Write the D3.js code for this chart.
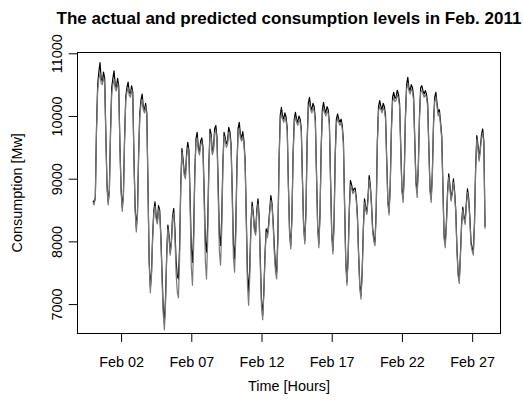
<!DOCTYPE html>
<html><head><meta charset="utf-8">
<script src="https://cdn.jsdelivr.net/npm/d3@7"></script>
<style>body{margin:0;background:#fff} svg{display:block} text{font-family:"Liberation Sans",Arial,Helvetica,sans-serif;fill:#000}</style>
</head><body><svg id="c" width="524" height="405"></svg>
<script>
// Hourly consumption sampled every 2 hours, Feb 1 00:00 onward (28 days)
const stepHours = 2;
const actual = [
8650,8620,8700,9800,10500,10700,10850,10600,10550,10700,10600,9700,
8900,8625,8830,9780,10450,10600,10720,10500,10450,10600,10480,9550,
8850,8545,8750,9650,10300,10450,10540,10380,10350,10480,10380,9350,
8550,8227,8450,9400,10050,10250,10350,10150,10100,10200,10050,8900,
7700,7275,7500,8100,8500,8630,8400,8310,8570,8500,8100,7500,
6950,6700,7100,7800,8260,8100,7825,8000,8400,8525,8200,7700,
7450,7400,7900,8900,9480,9300,9100,9050,9400,9580,9450,8700,
7900,7665,8100,9100,9634,9740,9500,9420,9600,9650,9500,8800,
8000,7830,8250,9200,9793,9700,9420,9500,9800,9847,9650,8900,
8100,7935,8350,9250,9740,9650,9560,9600,9820,9750,9550,8800,
7950,7720,8200,9200,9800,9900,9700,9650,9750,9600,9300,8400,
7500,7190,7600,8300,8625,8450,8200,8147,8500,8678,8400,7700,
7050,6820,7200,7800,8200,8100,8250,8500,8731,8600,8300,7900,
7600,7510,8100,9300,10006,10139,10000,9950,10050,9980,9800,8900,
8150,7935,8400,9400,9950,10059,9950,9900,10000,9950,9800,9000,
8250,8015,8500,9600,10200,10298,10150,10100,10200,10150,9950,9100,
8250,7961,8450,9500,10100,10218,10100,10050,10150,10100,9900,9000,
8150,7855,8300,9400,9950,10032,9950,9900,9950,9850,9600,8600,
7700,7350,7750,8500,8971,8900,8800,8840,8850,8700,8400,7800,
7300,7139,7500,8200,8678,8550,8466,8700,9050,8900,8600,8200,
8050,7988,8500,9600,10150,10245,10150,10100,10200,10150,10000,9300,
8650,8466,8900,9800,10300,10378,10280,10300,10410,10350,10200,9500,
8850,8678,9100,10000,10500,10617,10450,10400,10500,10450,10300,9600,
8950,8785,9200,10000,10450,10484,10400,10350,10404,10350,10200,9500,
8850,8678,9100,9900,10300,10378,10200,10059,10100,9900,9688,8900,
8100,7961,8300,8800,9076,8900,8678,8800,8996,8800,8500,7900,
7500,7378,7800,8300,8545,8400,8306,8600,8837,8700,8400,8000,
7900,7829,8300,9200,9688,9528,9315,9500,9700,9793,9600,8232
];
const predicted = [
8620,8580,8700,9750,10400,10600,10680,10520,10500,10620,10520,9650,
8850,8580,8800,9700,10350,10500,10580,10430,10400,10520,10420,9500,
8800,8480,8700,9600,10250,10380,10450,10330,10300,10420,10330,9300,
8500,8150,8400,9350,9980,10180,10260,10100,10050,10150,10000,8850,
7650,7180,7450,8050,8450,8560,8350,8280,8520,8450,8050,7400,
6850,6590,7000,7750,8200,8050,7780,7950,8350,8450,8100,7500,
7200,7100,7700,8850,9420,9250,9050,9000,9350,9500,9380,8550,
7600,7300,7900,9050,9580,9650,9450,9380,9550,9580,9450,8650,
7700,7400,8000,9150,9720,9650,9380,9450,9740,9760,9580,8750,
7850,7620,8150,9200,9680,9600,9500,9550,9740,9680,9500,8700,
7750,7510,8050,9150,9730,9800,9650,9600,9680,9550,9250,8300,
7300,6980,7450,8250,8560,8400,8160,8100,8450,8600,8350,7600,
6950,6750,7150,7750,8150,8060,8200,8450,8650,8550,8250,7800,
7500,7400,8000,9250,9930,10030,9950,9900,9980,9920,9750,8850,
8100,7880,8350,9350,9900,9980,9900,9850,9940,9900,9750,8950,
8200,7960,8450,9550,10130,10200,10100,10050,10130,10080,9900,9050,
8200,7900,8400,9450,10030,10130,10050,10000,10080,10040,9850,8950,
8100,7800,8250,9350,9880,9960,9900,9850,9900,9800,9550,8550,
7650,7300,7700,8450,8900,8850,8760,8800,8800,8650,8350,7750,
7250,7080,7450,8150,8620,8500,8430,8650,8980,8850,8550,8150,
8000,7930,8450,9550,10080,10160,10100,10050,10130,10090,9950,9250,
8600,8420,8850,9750,10230,10290,10230,10250,10330,10290,10150,9450,
8800,8620,9050,9950,10430,10520,10400,10350,10430,10390,10250,9550,
8900,8700,9150,9950,10380,10410,10350,10300,10340,10300,10150,9450,
8800,8620,9050,9850,10230,10300,10150,10000,10050,9850,9640,8850,
8050,7900,8250,8750,9020,8850,8640,8760,8940,8760,8460,7850,
7450,7330,7750,8250,8500,8360,8270,8560,8780,8650,8360,7950,
7850,7780,8250,9150,9630,9480,9280,9460,9650,9730,9560,8200
];
const xTickHours = [48, 168, 288, 408, 528, 648];
const xTickLabels = ["Feb 02", "Feb 07", "Feb 12", "Feb 17", "Feb 22", "Feb 27"];
const yTicks = [7000, 8000, 9000, 10000, 11000];
const titleText = "The actual and predicted consumption levels in Feb. 2011";
const xTitle = "Time [Hours]";
const yTitle = "Consumption [Mw]";

const svg = d3.select("#c");
const L = 77.3, R = 500.7, T = 52.3, B = 333.3;
const hrs = actual.map((_, i) => i * stepHours);
const pad = (lo, hi) => { const d = (hi - lo) * 0.04; return [lo - d, hi + d]; };
const x = d3.scaleLinear().domain(pad(d3.min(hrs), d3.max(hrs))).range([L, R]);
const y = d3.scaleLinear().domain(pad(d3.min(actual), d3.max(actual))).range([B, T]);

const line = d3.line().x((d, i) => x(hrs[i])).y(d => y(d));
svg.append("path").datum(actual).attr("d", line)
  .attr("fill", "none").attr("stroke", "#000").attr("stroke-width", 1.2).attr("stroke-linejoin", "round");
svg.append("path").datum(predicted).attr("d", line)
  .attr("fill", "none").attr("stroke", "#787878").attr("stroke-width", 1.2).attr("stroke-linejoin", "round");

svg.append("rect").attr("x", 77.5).attr("y", 52.5).attr("width", 423).attr("height", 281)
  .attr("fill", "none").attr("stroke", "#000").attr("stroke-width", 1);

const fs = 14.4;
const gx = svg.append("g").attr("transform", `translate(0,${B})`)
  .call(d3.axisBottom(x).tickValues(xTickHours).tickFormat((d, i) => xTickLabels[i]).tickSize(8.6).tickSizeOuter(0));
gx.select(".domain").remove();
gx.selectAll(".tick line").attr("stroke", "#000");
gx.selectAll(".tick text").attr("y", 0).attr("dy", 0).attr("transform", "translate(0,33.7)")
  .style("font-size", fs + "px").attr("font-family", null);

const gy = svg.append("g").attr("transform", `translate(${L},0)`)
  .call(d3.axisLeft(y).tickValues(yTicks).tickFormat(d3.format("d")).tickSize(8.6).tickSizeOuter(0));
gy.select(".domain").remove();
gy.selectAll(".tick line").attr("stroke", "#000");
gy.selectAll(".tick text").attr("x", 0).attr("y", 0).attr("dy", 0)
  .attr("text-anchor", "middle").attr("transform", "translate(-15,0) rotate(-90)")
  .style("font-size", fs + "px").attr("font-family", null);

svg.append("text").attr("x", (L + R) / 2).attr("y", 23.5).attr("text-anchor", "middle")
  .style("font-size", "17px").style("font-weight", "bold").text(titleText);
svg.append("text").attr("x", (L + R) / 2).attr("y", 390.5).attr("text-anchor", "middle")
  .style("font-size", fs + "px").text(xTitle);
svg.append("text").attr("transform", `translate(22,${(T + B) / 2}) rotate(-90)`).attr("text-anchor", "middle")
  .style("font-size", fs + "px").text(yTitle);
</script></body></html>
